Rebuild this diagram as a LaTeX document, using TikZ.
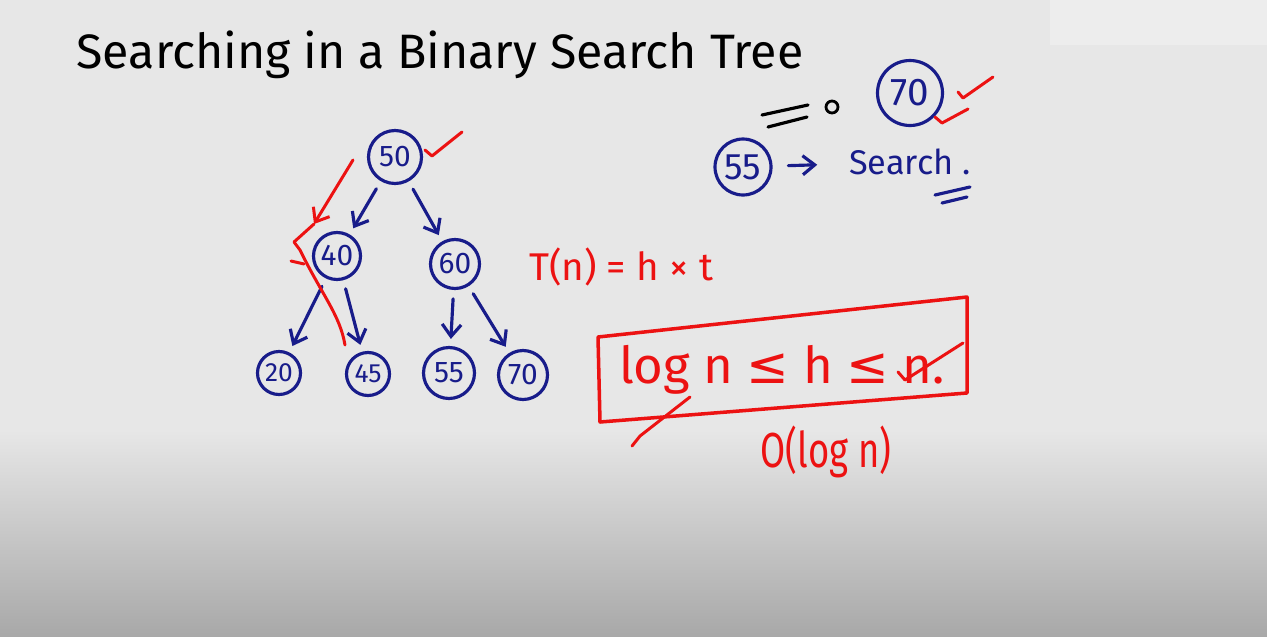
\documentclass[tikz,border=0pt]{standalone}
\usepackage{fontspec}
\setmainfont{Fira Sans}
\newfontfamily\symfont{DejaVu Sans}
\usetikzlibrary{arrows.meta,positioning}
\definecolor{pen}{RGB}{24,28,138}
\definecolor{redpen}{RGB}{236,18,18}
\definecolor{board}{RGB}{231,231,231}

\begin{document}
\begin{tikzpicture}[x=0.02cm,y=-0.02cm,>={Straight Barb[length=2.4mm,width=3.8mm]},line cap=round,line join=round,vert/.style={draw=pen,circle,line width=1.8pt,minimum size=0.98cm,inner sep=0pt,text=pen,font=\fontsize{17}{20}\selectfont},ptr/.style={->,draw=pen,line width=1.8pt,shorten <=5pt,shorten >=4pt},chk/.style={draw=redpen,line width=1.7pt},redtxt/.style={text=redpen,inner sep=0pt}]
\useasboundingbox (0,0) rectangle (1267,636);
\fill[board] (0,0) rectangle (1267,430);
\fill[black!7] (1050,0) rectangle (1267,45);
\shade[top color=board,bottom color=black!34] (0,430) rectangle (1267,636);
\node[font=\fontsize{27.5}{32}\selectfont] (title) at (440,55) {Searching in a Binary Search Tree};
% the tree
\node[vert,minimum size=1.06cm] (n50) at (395,157) {50};
\node[vert,minimum size=0.94cm] (n40) at (337,256) {40};
\node[vert] (n60) at (455,264) {60};
\node[vert,minimum size=0.86cm,font=\fontsize{15}{18}\selectfont] (n20) at (279,373) {20};
\node[vert,minimum size=0.86cm,font=\fontsize{15}{18}\selectfont] (n45) at (368,374) {45};
\node[vert,minimum size=1.02cm] (n55) at (449,373) {55};
\node[vert] (n70) at (523,375) {70};
\draw[ptr] (n50) -- (n40);
\draw[ptr] (n50) -- (n60);
\draw[ptr] (n40) -- (n20);
\draw[ptr] (n40) -- (n45);
\draw[ptr] (n60) -- (n55);
\draw[ptr] (n60) -- (n70);
% search path in red
\coordinate (ps) at (353,160);
\coordinate (pt) at (314,224);
\coordinate (pk) at (294,242);
\coordinate (pe) at (345,345);
\draw[chk,->] (ps) -- (pt);
\draw[chk] (pt) -- (pk) -- (300,250) .. controls (322,295) and (340,315) .. (pe);
\draw[chk] (291,261) -- (304,264);
\draw[chk] (425,150) -- (432,156) -- (462,132);
% key to look for
\draw[line width=1.8pt] (762,115) -- (808,105);
\draw[line width=1.8pt] (768,127) -- (807,117);
\node[draw,circle,line width=1.6pt,minimum size=0.24cm,inner sep=0pt] (dot) at (832,107) {};
\node[vert,minimum size=1.3cm,font=\fontsize{22}{26}\selectfont] (k70) at (910,93) {70};
\draw[chk] (958,92) -- (963,98) -- (993,77);
\draw[chk] (935,117) -- (942,123) -- (968,109);
\node[vert,minimum size=1.12cm,font=\fontsize{21}{24}\selectfont] (k55) at (743,167) {55};
\node[text=pen,inner sep=0pt,font=\fontsize{19.5}{24}\selectfont] (search) at (910,162) {Search~.};
\draw[ptr,shorten <=9pt,shorten >=18pt] (k55) -- (search);
\draw[draw=pen,line width=1.8pt] (935,195) -- (970,187);
\draw[draw=pen,line width=1.8pt] (942,203) -- (967,197);
% time taken
\node[redtxt,font=\fontsize{22}{26}\selectfont] (tn) at (621,267) {T(n) = h × t};
\coordinate (b1) at (598,337);
\coordinate (b2) at (967,297);
\coordinate (b3) at (967,393);
\coordinate (b4) at (600,422);
\draw[chk,line width=2pt] (b1) -- (b2) -- (b3) -- (b4) -- cycle;
\node[redtxt,font=\fontsize{29}{34}\selectfont] (bound) at (782,370) {log n {\symfont ≤} h {\symfont ≤} n.};
\draw[chk] (632,446) -- (640,436) -- (690,397);
\draw[chk] (898,372) -- (905,380) -- (963,343);
\node[redtxt,font=\fontsize{28}{32}\selectfont] (bigo) at (826,452) {\scalebox{0.74}[1]{O(log n)}};
\end{tikzpicture}
\end{document}
